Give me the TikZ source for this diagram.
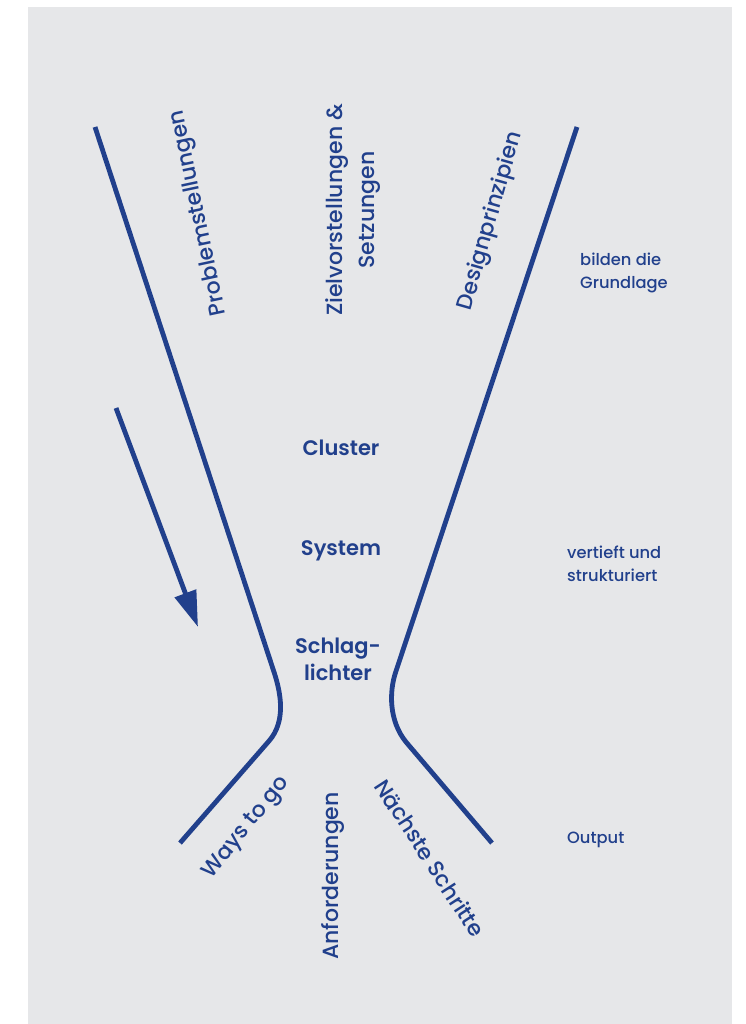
\documentclass[tikz,border=0pt]{standalone}
\usepackage{fontspec}
\setmainfont{Poppins}
\newfontfamily\medfont{Poppins Medium}
\newfontfamily\semifont{Poppins SemiBold}
\usetikzlibrary{arrows.meta}
\definecolor{funnel}{RGB}{33,64,140}
\definecolor{paper}{RGB}{230,231,233}

\begin{document}
\begin{tikzpicture}[x=1pt,y=-1pt,
	every node/.style={text=funnel,inner sep=0pt},
	wall/.style={draw=funnel,line width=4.8pt},
	stage/.style={font=\semifont\fontsize{21}{27}\selectfont,align=center},
	tag/.style={font=\medfont\fontsize{22}{32}\selectfont,align=center},
	note/.style={font=\medfont\fontsize{16.3}{23}\selectfont,align=left,anchor=west}]
					\useasboundingbox (0,0) rectangle (745,1024);
					\fill[paper] (28,7) rectangle (732,1024);
					
					\coordinate (lt) at (95,127);
					\coordinate (lb1) at (274,672);
					\coordinate (lb2) at (269,741);
					\coordinate (le) at (180,843);
					\coordinate (rt) at (577,127);
					\coordinate (rb1) at (395.7,672);
					\coordinate (rb2) at (406,742);
					\coordinate (re) at (492,843);
					\coordinate (arrtail) at (116,408);
					\coordinate (arrtip) at (198,627);
					
					\draw[wall] (lt) -- (lb1) .. controls (280.6,692) and (286.5,721) .. (lb2) -- (le);
					\draw[wall] (rt) -- (rb1) .. controls (389,692) and (389,721) .. (rb2) -- (re);
					\draw[wall,-{Triangle[length=36pt,width=22pt]}] (arrtail) -- (arrtip);
					
					\node (probl) at (199,213) [tag,rotate=102] {Problemstellungen};
					\node (ziel) at (353,210) [tag,rotate=90] {Zielvorstellungen \&\\Setzungen};
					\node (design) at (491,221) [tag,rotate=74] {Designprinzipien};
					
					\node (cluster) at (341,448) [stage] {Cluster};
					\node (system) at (341,551) [stage] {System};
					\node (schlag) at (338,659) [stage] {Schlag-\\lichter};
					
					\node (ways) at (247,828) [tag,rotate=51] {Ways to go};
					\node (anford) at (333,876) [tag,rotate=90] {Anforderungen};
					\node (naechste) at (430,858) [tag,rotate=-57] {Nächste Schritte};
					
					\node (bilden) at (580,273) [note] {bilden die\\Grundlage};
					\node (vertieft) at (567,564) [note] {vertieft und\\strukturiert};
					\node (output) at (567,840) [note] {Output};
					
\end{tikzpicture}
\end{document}
